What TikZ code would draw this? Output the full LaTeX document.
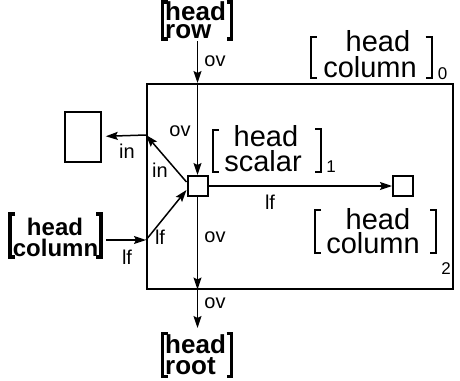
\documentclass[tikz,border=0pt]{standalone}
\usepackage{fontspec}
\setmainfont{Liberation Sans}
\usetikzlibrary{arrows.meta,calc}
\newcommand\lbr[5]{\draw[#5] (#1+#4,#2) -- (#1,#2) -- (#1,#3) -- (#1+#4,#3);}
\newcommand\rbr[5]{\draw[#5] (#1-#4,#2) -- (#1,#2) -- (#1,#3) -- (#1-#4,#3);}
\tikzset{
 arr/.style={-{Stealth[length=12pt,width=8pt,inset=2pt]}, line width=1.5pt},
 lbl/.style={font=\fontsize{20}{20}\selectfont, inner sep=0pt},
 reg/.style={font=\fontsize{29}{29}\selectfont, inner sep=0pt, anchor=base},
 bld/.style={font=\fontsize{26}{26}\selectfont\bfseries, inner sep=0pt, anchor=base west},
 bldl/.style={font=\fontsize{24}{24}\selectfont\bfseries, inner sep=0pt, anchor=base},
 sub/.style={font=\fontsize{17}{17}\selectfont, inner sep=0pt},
 thinbr/.style={line width=2pt},
 boldbr/.style={line width=3.5pt},
 smallbox/.style={draw, line width=2pt, fill=white, minimum size=20pt, inner sep=0pt},
}
\begin{document}
\begin{tikzpicture}[x=1pt,y=-1pt]
\useasboundingbox[fill=white] (0,0) rectangle (460,380);
% frame and boxes
\node[draw, line width=1.5pt, minimum width=306pt, minimum height=205pt, anchor=north west, inner sep=0pt] (frame) at (146,83) {};
\node[draw, line width=1.5pt, minimum width=36pt, minimum height=50pt, inner sep=0pt] (E) at (83,137) {};
\node[smallbox] (A) at (197.5,186) {};
\node[smallbox] (B) at (403,186) {};
% bold labels
\node[bld] (rowa) at (165,20.5) {head};
\node[bld] (rowb) at (165,38) {row};
\lbr{162.5}{2}{39}{5}{boldbr}
\rbr{231.5}{2}{39}{5}{boldbr}
\node[bld] (roota) at (165,353) {head};
\node[bld] (rootb) at (165,374.5) {root};
\lbr{162.5}{333.5}{376.5}{5}{boldbr}
\rbr{231.5}{333.5}{376.5}{5}{boldbr}
\node[bldl] (lca) at (55,235) {head};
\node[bldl] (lcb) at (55.5,256.5) {column};
\lbr{10}{214}{257}{5}{boldbr}
\rbr{101}{214}{257}{5}{boldbr}
% regular labels
\node[reg] (c0a) at (378,51.5) {head};
\node[reg] (c0b) at (370,77) {column};
\lbr{310.5}{37}{78}{6}{thinbr}
\rbr{431.5}{37}{78}{6}{thinbr}
\node[sub] (s0) at (442.5,74) {0};
\node[reg] (sca) at (266,146.5) {head};
\node[reg] (scb) at (263,171) {scalar};
\lbr{213}{130}{172}{6}{thinbr}
\rbr{321}{129}{172}{6}{thinbr}
\node[sub] (s1) at (331,166.5) {1};
\node[reg] (c2a) at (378,229) {head};
\node[reg] (c2b) at (373,253) {column};
\lbr{315}{210}{253}{6}{thinbr}
\rbr{436}{210}{253}{6}{thinbr}
\node[sub] (s2) at (446,269) {2};
% connector ends
\coordinate (rowend) at (197.5,41);
\coordinate (rootend) at (197.5,328);
\coordinate (jin) at (146,135);
\coordinate (lcol) at (106,240);
\coordinate (jlf) at (146,240);
% connectors
\draw[arr] (rowend) -- (A |- frame.north);
\draw[arr] (A |- frame.north) -- (A);
\draw[arr] (A) -- (B);
\draw[arr] (A) -- (A |- frame.south);
\draw[arr] (A |- frame.south) -- (rootend);
\draw[arr] (A.160) -- (jin);
\draw[arr, shorten >=4pt] (jin) -- (E);
\draw[arr] (lcol) -- (jlf);
\draw[arr] (jlf) -- (A.200);
% connector labels
\node[lbl] (l1) at (215,61) {ov};
\node[lbl] (l2) at (180,131) {ov};
\node[lbl] (l3) at (270,202) {lf};
\node[lbl] (l4) at (215,237) {ov};
\node[lbl] (l5) at (215,303) {ov};
\node[lbl] (l6) at (160,170) {in};
\node[lbl] (l7) at (127,151) {in};
\node[lbl] (l8) at (127,257) {lf};
\node[lbl] (l9) at (160,237) {lf};
\end{tikzpicture}
\end{document}
